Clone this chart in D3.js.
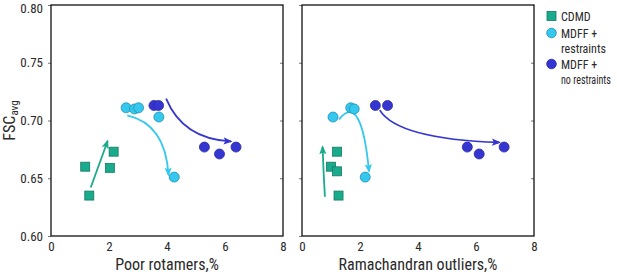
<!DOCTYPE html>
<html><head><meta charset="utf-8">
<script src="https://cdn.jsdelivr.net/npm/d3@7"></script>
<style>
body{margin:0;background:#fff;}
svg text{font-family:"Roboto Condensed","Liberation Sans Narrow","DejaVu Sans Condensed",sans-serif;fill:#2a2a2a;}
</style></head>
<body><svg id="c" width="617" height="275"></svg>
<script>
const xTicks = [0, 2, 4, 6, 8];
const yTicks = [0.60, 0.65, 0.70, 0.75, 0.80];
const panelTitles = ["Poor rotamers,%", "Ramachandran outliers,%"];
const seriesNames = ["CDMD", "MDFF +\nrestraints", "MDFF +\nno restraints"];
const seriesColors = ["#1aab8c", "#35c8ef", "#3535d2"];
const seriesStroke = ["#137a64", "#2390b0", "#2a2aa0"];
// panel 1: poor rotamers
const cdmdRot = [[1.18,0.660],[1.32,0.635],[2.03,0.659],[2.16,0.673]];
const mdffResRot = [[2.59,0.711],[2.88,0.710],[3.02,0.711],[3.72,0.703],[4.25,0.651]];
const mdffNoRot = [[3.55,0.713],[3.71,0.713],[5.29,0.677],[5.81,0.671],[6.38,0.677]];
// panel 2: ramachandran outliers
const cdmdRama = [[1.21,0.673],[1.00,0.660],[1.21,0.656],[1.26,0.635]];
const mdffResRama = [[1.07,0.703],[1.68,0.711],[1.80,0.710],[2.18,0.651]];
const mdffNoRama = [[2.53,0.713],[2.95,0.713],[5.70,0.677],[6.11,0.671],[6.97,0.677]];
// arrows: [start, control, end] in data units
const arrowsRot = [
  [[1.37,0.642],[1.66,0.662],[1.95,0.682]],
  [[2.63,0.7045],[3.95,0.697],[4.05,0.653]],
  [[3.97,0.719],[4.55,0.684],[6.2,0.682]]
];
const arrowsRama = [
  [[0.79,0.634],[0.74,0.655],[0.71,0.677]],
  [[1.28,0.701],[2.05,0.725],[2.31,0.656]],
  [[2.68,0.709],[3.3,0.684],[6.8,0.681]]
];

const svg = d3.select("#c");
const yTop = 5, yBottom = 236;
const panels = [
  {x0:51, x1:283, data:[cdmdRot, mdffResRot, mdffNoRot], arrows:arrowsRot, title:panelTitles[0], yLabels:true},
  {x0:302, x1:534, data:[cdmdRama, mdffResRama, mdffNoRama], arrows:arrowsRama, title:panelTitles[1], yLabels:false}
];
const y = d3.scaleLinear().domain([0.60,0.80]).range([yBottom, yTop]);

const defs = svg.append("defs");
seriesColors.forEach((c,i)=>{
  defs.append("marker").attr("id","ah"+i).attr("viewBox","0 0 10 10").attr("refX",8).attr("refY",5)
    .attr("markerWidth",9).attr("markerHeight",9).attr("markerUnits","userSpaceOnUse").attr("orient","auto")
    .append("path").attr("d","M0,1 L10,5 L0,9 L2,5 Z").attr("fill",c);
});

panels.forEach(p=>{
  const x = d3.scaleLinear().domain([0,8]).range([p.x0,p.x1]);
  const g = svg.append("g");
  const ya = g.append("g").attr("transform",`translate(${p.x0},0)`)
    .call(d3.axisLeft(y).tickValues(yTicks).tickSize(3).tickFormat(p.yLabels? d3.format(".2f") : ""));
  ya.select(".domain").remove();
  ya.selectAll("text").attr("font-size",13).attr("dx",-2);
  ya.selectAll(".tick").filter(d=>d===0.80).select("text").attr("dy","0.6em");
  ya.selectAll("line").attr("stroke","#777");
  const yr = g.append("g").attr("transform",`translate(${p.x1},0)`)
    .call(d3.axisLeft(y).tickValues(yTicks.slice(1,-1)).tickSize(3).tickFormat(""));
  yr.select(".domain").remove();
  yr.selectAll("line").attr("stroke","#777");
  const xa = g.append("g").attr("transform",`translate(0,${yBottom})`)
    .call(d3.axisBottom(x).tickValues(xTicks).tickSize(0).tickPadding(6).tickFormat(d3.format("d")));
  xa.select(".domain").remove();
  xa.selectAll("text").attr("font-size",13);
  g.append("rect").attr("x",p.x0).attr("y",yTop).attr("width",p.x1-p.x0).attr("height",yBottom-yTop)
    .attr("fill","none").attr("stroke","#111").attr("stroke-width",1.3);
  p.arrows.forEach((a,i)=>{
    const path = d3.path();
    path.moveTo(x(a[0][0]),y(a[0][1]));
    path.quadraticCurveTo(x(a[1][0]),y(a[1][1]),x(a[2][0]),y(a[2][1]));
    g.append("path").attr("d",path.toString()).attr("fill","none").attr("stroke",seriesColors[i])
      .attr("stroke-width",1.8).attr("marker-end",`url(#ah${i})`);
  });
  p.data.forEach((pts,i)=>{
    pts.forEach(d=>{
      if(i===0){
        g.append("rect").attr("x",x(d[0])-4.5).attr("y",y(d[1])-4.5).attr("width",9).attr("height",9)
          .attr("fill",seriesColors[i]).attr("stroke",seriesStroke[i]).attr("stroke-width",0.8);
      } else {
        g.append("circle").attr("cx",x(d[0])).attr("cy",y(d[1])).attr("r",5)
          .attr("fill",seriesColors[i]).attr("stroke",seriesStroke[i]).attr("stroke-width",0.8);
      }
    });
  });
  g.append("text").attr("x",(p.x0+p.x1)/2).attr("y",270).attr("text-anchor","middle")
    .attr("font-size",16).text(p.title);
});

const yt = svg.append("text").attr("transform",`translate(15,${(yTop+yBottom)/2}) rotate(-90)`)
  .attr("text-anchor","middle").attr("font-size",16);
yt.append("tspan").text("FSC");
yt.append("tspan").attr("font-size",11).attr("dy",3).text("avg");

const legY = [16, 33, 64];
const lg = svg.append("g");
seriesNames.forEach((n,i)=>{
  if(i===0){
    lg.append("rect").attr("x",547).attr("y",legY[i]-4.5).attr("width",9).attr("height",9)
      .attr("fill",seriesColors[i]).attr("stroke",seriesStroke[i]).attr("stroke-width",0.8);
  } else {
    lg.append("circle").attr("cx",551.5).attr("cy",legY[i]).attr("r",4.8)
      .attr("fill",seriesColors[i]).attr("stroke",seriesStroke[i]).attr("stroke-width",0.8);
  }
  const lines = n.split("\n");
  lines.forEach((t,j)=>{
    const tg = lg.append("g");
    const tx = tg.append("text").attr("x",0).attr("y",0).attr("font-size",12).text(t);
    const w = tx.node().getComputedTextLength();
    const sx = w > 50 ? 50 / w : 1;
    tg.attr("transform",`translate(561,${legY[i]+4.5+j*15.5}) scale(${sx},1)`);
  });
});
</script></body></html>
